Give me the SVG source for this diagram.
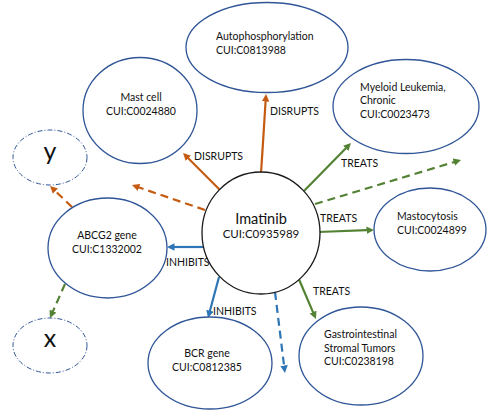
<svg xmlns="http://www.w3.org/2000/svg" width="487" height="411" viewBox="0 0 487 411">
  <style>
    .node { fill: #ffffff; stroke: #2F5597; stroke-width: 1.3; }
    .hub { fill: #ffffff; stroke: #1a1a1a; stroke-width: 1.3; }
    .ghost { fill: none; stroke: #2F5597; stroke-width: 1; stroke-dasharray: 5 2 1 2; }
    .t { font-family: Lato, "Open Sans", "Liberation Sans", sans-serif; font-size: 10.5px; fill: #111111; }
    .mid { text-anchor: middle; }
    .big { font-size: 14.5px; }
    .hubcui { font-size: 11.5px; }
    .var { font-size: 25px; }
    .edge { fill: none; stroke-width: 2.2; }
    .dash { stroke-dasharray: 8 5; }
    .or { stroke: #C55A11; }
    .gr { stroke: #548235; }
    .bl { stroke: #2E75B6; }
  </style>
  <defs>
    <marker id="ah-or" markerUnits="userSpaceOnUse" markerWidth="8" markerHeight="8" refX="0.5" refY="3.75" orient="auto">
      <path d="M0,0 L7.5,3.75 L0,7.5 z" fill="#C55A11"/>
    </marker>
    <marker id="ah-gr" markerUnits="userSpaceOnUse" markerWidth="8" markerHeight="8" refX="0.5" refY="3.75" orient="auto">
      <path d="M0,0 L7.5,3.75 L0,7.5 z" fill="#548235"/>
    </marker>
    <marker id="ah-bl" markerUnits="userSpaceOnUse" markerWidth="8" markerHeight="8" refX="0.5" refY="3.75" orient="auto">
      <path d="M0,0 L7.5,3.75 L0,7.5 z" fill="#2E75B6"/>
    </marker>
  </defs>
  <rect width="487" height="411" fill="#ffffff"/>

  <!-- connectors -->
  <g id="connectors">
    <line class="edge or" x1="261" y1="174" x2="265.6" y2="101" marker-end="url(#ah-or)"/>
    <line class="edge or" x1="220" y1="190" x2="188" y2="158" marker-end="url(#ah-or)"/>
    <line class="edge or dash" x1="205" y1="210" x2="138.6" y2="187.3" marker-end="url(#ah-or)"/>
    <line class="edge or dash" x1="72" y1="207" x2="55.1" y2="190.8" marker-end="url(#ah-or)"/>
    <line class="edge bl" x1="205" y1="247" x2="174" y2="247" marker-end="url(#ah-bl)"/>
    <line class="edge bl" x1="219" y1="277" x2="209.8" y2="311.2" marker-end="url(#ah-bl)"/>
    <line class="edge bl dash" x1="275" y1="292" x2="284.1" y2="366" marker-end="url(#ah-bl)"/>
    <line class="edge gr" x1="303" y1="192" x2="346.1" y2="148" marker-end="url(#ah-gr)"/>
    <line class="edge gr dash" x1="315" y1="204" x2="454.3" y2="162" marker-end="url(#ah-gr)"/>
    <line class="edge gr" x1="318" y1="232" x2="367" y2="230.2" marker-end="url(#ah-gr)"/>
    <line class="edge gr" x1="298" y1="277" x2="313.2" y2="312.6" marker-end="url(#ah-gr)"/>
    <line class="edge gr dash" x1="65" y1="284" x2="52.8" y2="311.6" marker-end="url(#ah-gr)"/>

    <text class="t" x="194" y="159.5">DISRUPTS</text>
    <text class="t" x="270" y="114.5">DISRUPTS</text>
    <text class="t" x="341" y="166.5">TREATS</text>
    <text class="t" x="320" y="221.5">TREATS</text>
    <text class="t" x="313" y="294.5">TREATS</text>
    <text class="t" x="166" y="265.5">INHIBITS</text>
    <text class="t" x="213" y="314.5">INHIBITS</text>
  </g>

  <!-- nodes -->
  <g id="imatinib">
    <ellipse class="hub" cx="261" cy="233" rx="59" ry="61"/>
    <text class="t mid big" x="261" y="223.5">Imatinib</text>
    <text class="t mid hubcui" x="261" y="238">CUI:C0935989</text>
  </g>
  <g id="autophosphorylation">
    <ellipse class="node" cx="267" cy="47.5" rx="81" ry="45"/>
    <text class="t" x="216" y="40">Autophosphorylation</text>
    <text class="t" x="216" y="54">CUI:C0813988</text>
  </g>
  <g id="mast-cell">
    <ellipse class="node" cx="140" cy="110.5" rx="57" ry="53"/>
    <text class="t mid" x="141" y="101">Mast cell</text>
    <text class="t mid" x="141" y="115">CUI:C0024880</text>
  </g>
  <g id="myeloid-leukemia">
    <ellipse class="node" cx="406" cy="106.5" rx="73" ry="47"/>
    <text class="t" x="360" y="90.5">Myeloid Leukemia,</text>
    <text class="t" x="360" y="104">Chronic</text>
    <text class="t" x="360" y="117.5">CUI:C0023473</text>
  </g>
  <g id="mastocytosis">
    <ellipse class="node" cx="430" cy="229.5" rx="56" ry="41.5"/>
    <text class="t" x="397" y="219.5">Mastocytosis</text>
    <text class="t" x="397" y="233.5">CUI:C0024899</text>
  </g>
  <g id="gist">
    <ellipse class="node" cx="361" cy="356" rx="62" ry="49"/>
    <text class="t" x="324" y="337.5">Gastrointestinal</text>
    <text class="t" x="324" y="351.5">Stromal Tumors</text>
    <text class="t" x="324" y="365">CUI:C0238198</text>
  </g>
  <g id="bcr-gene">
    <ellipse class="node" cx="210" cy="363" rx="62" ry="46"/>
    <text class="t mid" x="207" y="357">BCR gene</text>
    <text class="t mid" x="207" y="371">CUI:C0812385</text>
  </g>
  <g id="abcg2-gene">
    <ellipse class="node" cx="107.5" cy="248" rx="59.5" ry="50"/>
    <text class="t mid" x="107" y="239">ABCG2 gene</text>
    <text class="t mid" x="107" y="252.5">CUI:C1332002</text>
  </g>
  <g id="y">
    <ellipse class="ghost" cx="50" cy="157.5" rx="37" ry="27.5"/>
    <text class="t mid var" x="50" y="160">y</text>
  </g>
  <g id="x">
    <ellipse class="ghost" cx="50" cy="345.5" rx="37" ry="27.5"/>
    <text class="t mid var" x="50" y="347">x</text>
  </g>
</svg>
